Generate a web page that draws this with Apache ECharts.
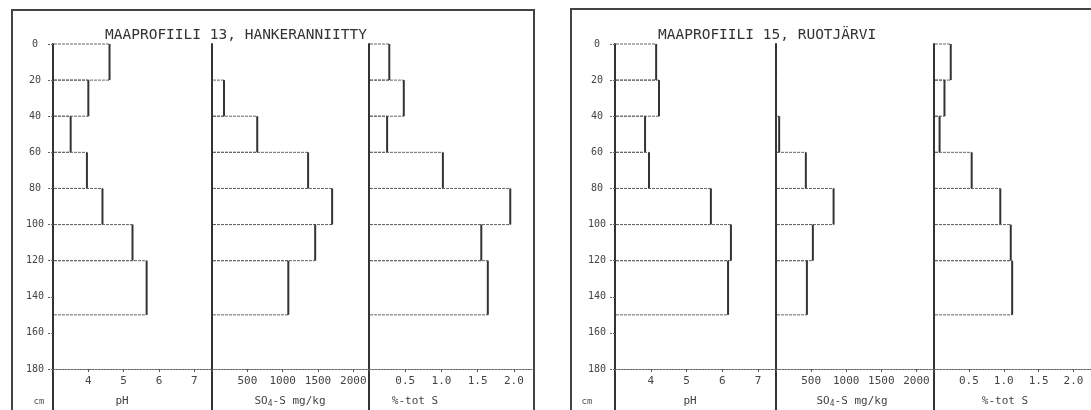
<!DOCTYPE html>
<html><head><meta charset="utf-8">
<script src="https://cdn.jsdelivr.net/npm/echarts@6/dist/echarts.min.js"></script>
<style>html,body{margin:0;padding:0;background:#fff}#c{width:1091px;height:410px}</style>
</head><body><div id="c"></div>
<script>
// Depth layers (cm)
const depthTop = [0, 20, 40, 60, 80, 100, 120];
const depthBottom = [20, 40, 60, 80, 100, 120, 150];
// Profile 13, Hankeranniitty
const ph13 = [4.6, 4.0, 3.5, 3.96, 4.4, 5.25, 5.65];
const so4_13 = [0, 170, 640, 1360, 1700, 1460, 1080];
const s13 = [0.28, 0.48, 0.25, 1.02, 1.95, 1.55, 1.64];
// Profile 15, Ruotjärvi
const ph15 = [4.15, 4.23, 3.84, 3.95, 5.68, 6.24, 6.16];
const so4_15 = [0, 0, 45, 425, 820, 525, 440];
const s15 = [0.24, 0.15, 0.08, 0.54, 0.95, 1.10, 1.12];
// Tick labels shown on the value axes
const phTicks = [4, 5, 6, 7];
const so4Ticks = [500, 1000, 1500, 2000];
const sTicks = [0.5, 1.0, 1.5, 2.0];
const titles = ['MAAPROFIILI 13, HANKERANNIITTY', 'MAAPROFIILI 15, RUOTJÄRVI'];
const xNames = ['pH', 'SO{sub|4}-S mg/kg', '%-tot S'];

const FONT = 'DejaVu Sans Mono';
const TOP = 44, H = 325;
// panel layout: [left, width]
const panels = [
  [53, 159], [212, 159], [369, 163],
  [615, 161], [776, 158], [934, 161]
];
const inSet = (arr, v) => arr.some(t => Math.abs(t - v) < 1e-9);
const axes = [
  {min: 3, max: 7.5, interval: 1, fmt: v => (inSet(phTicks, v) ? String(v) : '')},
  {min: 0, max: 2250, interval: 500, fmt: v => (inSet(so4Ticks, v) ? String(v) : '')},
  {min: 0, max: 2.25, interval: 0.5, fmt: v => (inSet(sTicks, v) ? v.toFixed(1) : '')}
];
const seriesVals = [ph13, so4_13, s13, ph15, so4_15, s15];

const grids = [], xAxes = [], yAxes = [], series = [];
panels.forEach((p, i) => {
  const a = axes[i % 3];
  const first = i % 3 === 0;
  grids.push({left: p[0], top: TOP, width: p[1], height: H, containLabel: false});
  xAxes.push({
    type: 'value', gridIndex: i, min: a.min, max: a.max, interval: a.interval,
    axisLine: {show: true, onZero: false, lineStyle: {color: '#666', width: 1, type: [2, 1]}},
    axisTick: {show: true, length: 3, lineStyle: {color: '#555'}},
    splitLine: {show: false},
    axisLabel: {formatter: a.fmt, showMaxLabel: false, color: '#444', fontFamily: FONT, fontSize: 11, margin: 7}
  });
  yAxes.push({
    type: 'value', gridIndex: i, inverse: true, min: 0, max: 180, interval: 20,
    axisLine: {show: true, lineStyle: {color: '#333', width: 2}},
    axisTick: {show: first, length: 5, lineStyle: {color: '#666', type: [2, 1]}},
    splitLine: {show: false},
    axisLabel: {show: first, color: '#444', fontFamily: FONT, fontSize: 10, align: 'center', margin: 18}
  });
  const vals = seriesVals[i];
  const data = depthTop.map((t, k) => [t, depthBottom[k], vals[k]]);
  series.push({
    type: 'custom', xAxisIndex: i, yAxisIndex: i, data: data,
    encode: {x: 2, y: [0, 1]}, silent: true,
    renderItem: (params, api) => {
      const t = api.value(0), b = api.value(1), v = api.value(2);
      const p0 = api.coord([a.min, t]);
      const p1 = api.coord([v, b]);
      const hs = {stroke: '#666', lineWidth: 1, lineDash: [3, 1]};
      return {type: 'group', children: [
        {type: 'line', shape: {x1: p0[0] + 1, y1: p0[1], x2: p1[0], y2: p0[1]}, style: hs},
        {type: 'line', shape: {x1: p0[0] + 1, y1: p1[1], x2: p1[0], y2: p1[1]}, style: hs},
        {type: 'line', shape: {x1: p1[0], y1: p0[1], x2: p1[0], y2: p1[1]}, style: {stroke: '#333', lineWidth: 2}}
      ]};
    }
  });
});

const graphic = [];
// frames
graphic.push({type: 'polyline', shape: {points: [[12, 412], [12, 10], [534, 10], [534, 412]]}, style: {stroke: '#444', lineWidth: 2, fill: null}});
graphic.push({type: 'polyline', shape: {points: [[571, 412], [571, 9], [1095, 9]]}, style: {stroke: '#444', lineWidth: 2, fill: null}});
// axis extensions below the depth axis
panels.forEach(p => {
  graphic.push({type: 'line', shape: {x1: p[0], y1: TOP + H, x2: p[0], y2: 412}, style: {stroke: '#333', lineWidth: 2}});
});
// axis names
const nameX = [[122, 290, 415], [690, 852, 1005]];
nameX.forEach((row, f) => {
  row.forEach((x, j) => {
    graphic.push({type: 'text', x: x, y: 401, style: {
      text: xNames[j], fill: '#444', font: '11px ' + FONT, align: 'center', verticalAlign: 'middle',
      rich: {sub: {fontSize: 8, fontFamily: FONT, fill: '#444', padding: [6, 0, 0, 0]}}
    }});
  });
});
graphic.push({type: 'text', x: 39, y: 402, style: {text: 'cm', fill: '#555', font: '9px ' + FONT, align: 'center', verticalAlign: 'middle'}});
graphic.push({type: 'text', x: 587, y: 402, style: {text: 'cm', fill: '#555', font: '9px ' + FONT, align: 'center', verticalAlign: 'middle'}});

const chart = echarts.init(document.getElementById('c'), null, {renderer: 'canvas'});
chart.setOption({
  backgroundColor: '#fff',
  animation: false,
  title: [
    {text: titles[0], left: 100, top: 23, textStyle: {fontFamily: FONT, fontSize: 14.5, fontWeight: 'normal', color: '#333'}},
    {text: titles[1], left: 653, top: 23, textStyle: {fontFamily: FONT, fontSize: 14.5, fontWeight: 'normal', color: '#333'}}
  ],
  grid: grids, xAxis: xAxes, yAxis: yAxes, series: series, graphic: graphic
});
</script></body></html>
